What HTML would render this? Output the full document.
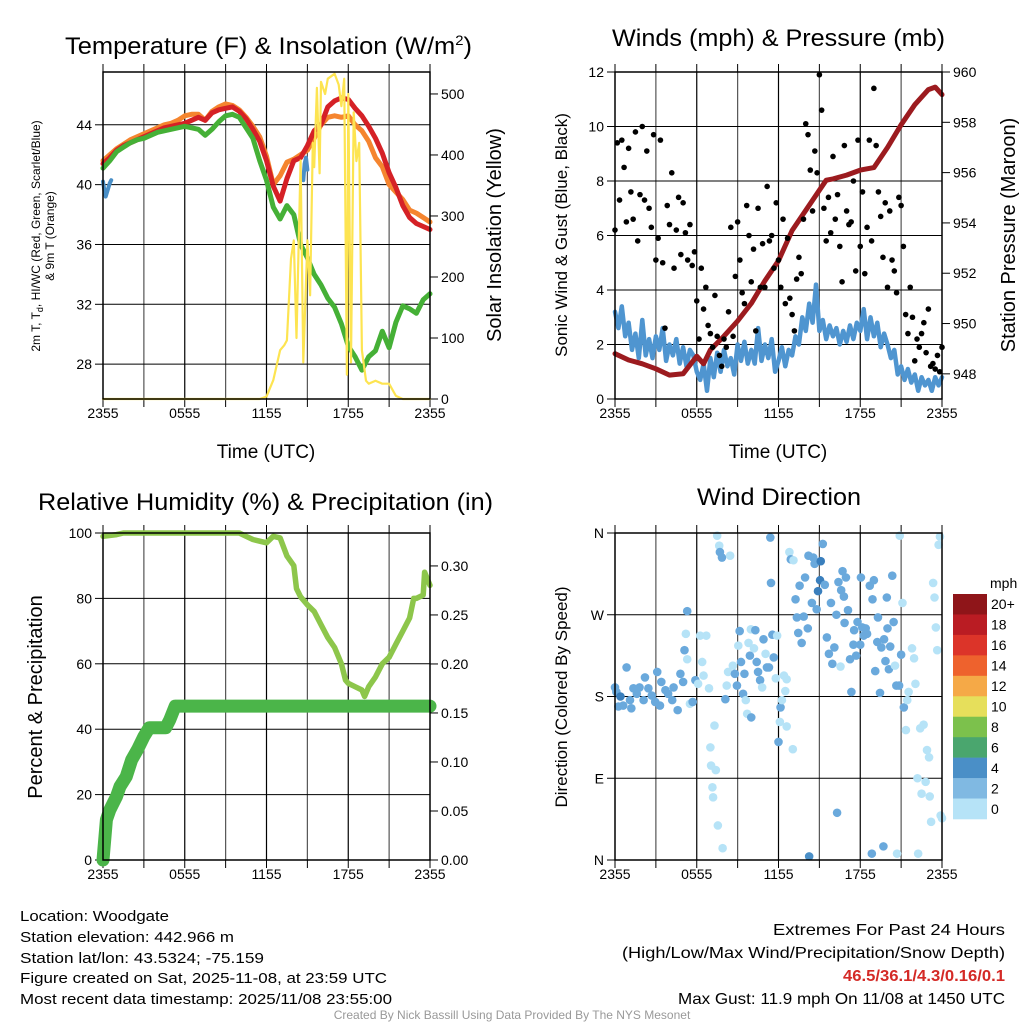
<!DOCTYPE html>
<html><head><meta charset="utf-8"><style>
html,body{margin:0;padding:0;background:#fff}
svg{display:block}
text{font-family:"Liberation Sans",sans-serif;fill:#000}
</style></head><body>
<svg id="fig" width="1024" height="1024" viewBox="0 0 1024 1024" xmlns="http://www.w3.org/2000/svg">
<g id="layer"></g>
<text x="65" y="54" font-size="24" textLength="407" lengthAdjust="spacingAndGlyphs">Temperature (F) &amp; Insolation (W/m<tspan font-size="14" dy="-9">2</tspan><tspan dy="9">)</tspan></text>
<text x="612" y="46" font-size="24" textLength="333" lengthAdjust="spacingAndGlyphs">Winds (mph) &amp; Pressure (mb)</text>
<text x="38" y="510" font-size="24" textLength="455" lengthAdjust="spacingAndGlyphs">Relative Humidity (%) &amp; Precipitation (in)</text>
<text x="697" y="505" font-size="24" textLength="164" lengthAdjust="spacingAndGlyphs">Wind Direction</text>
<text x="266" y="458" font-size="19" text-anchor="middle">Time (UTC)</text>
<text x="778" y="458" font-size="19" text-anchor="middle">Time (UTC)</text>
<text transform="translate(40,236) rotate(-90)" font-size="12" text-anchor="middle">2m T, T<tspan font-size="9" dy="3">d</tspan><tspan dy="-3">, HI/WC (Red, Green, Scarlet/Blue)</tspan></text>
<text transform="translate(54,236) rotate(-90)" font-size="12" text-anchor="middle">&amp; 9m T (Orange)</text>
<text transform="translate(501,235) rotate(-90)" font-size="20" text-anchor="middle">Solar Insolation (Yellow)</text>
<text transform="translate(567,235) rotate(-90)" font-size="17" text-anchor="middle">Sonic Wind &amp; Gust (Blue, Black)</text>
<text transform="translate(1015,235) rotate(-90)" font-size="20" text-anchor="middle">Station Pressure (Maroon)</text>
<text transform="translate(42,697) rotate(-90)" font-size="20" text-anchor="middle">Percent &amp; Precipitation</text>
<text transform="translate(567,697) rotate(-90)" font-size="17" text-anchor="middle">Direction (Colored By Speed)</text>
<g font-size="15">
<text x="20" y="921" textLength="149" lengthAdjust="spacingAndGlyphs">Location: Woodgate</text>
<text x="20" y="942" textLength="214" lengthAdjust="spacingAndGlyphs">Station elevation: 442.966 m</text>
<text x="20" y="963" textLength="244" lengthAdjust="spacingAndGlyphs">Station lat/lon: 43.5324; -75.159</text>
<text x="20" y="983" textLength="367" lengthAdjust="spacingAndGlyphs">Figure created on Sat, 2025-11-08, at 23:59 UTC</text>
<text x="20" y="1004" textLength="372" lengthAdjust="spacingAndGlyphs">Most recent data timestamp: 2025/11/08 23:55:00</text>
</g>
<g font-size="16">
<text x="773" y="935" textLength="232" lengthAdjust="spacingAndGlyphs">Extremes For Past 24 Hours</text>
<text x="622" y="958" textLength="383" lengthAdjust="spacingAndGlyphs">(High/Low/Max Wind/Precipitation/Snow Depth)</text>
<text x="843" y="981" font-weight="bold" textLength="162" lengthAdjust="spacingAndGlyphs" style="fill:#d42a26">46.5/36.1/4.3/0.16/0.1</text>
<text x="678" y="1004" textLength="327" lengthAdjust="spacingAndGlyphs">Max Gust: 11.9 mph On 11/08 at 1450 UTC</text>
</g>
<text x="512" y="1019" font-size="12" text-anchor="middle" style="fill:#999">Created By Nick Bassill Using Data Provided By The NYS Mesonet</text>
</svg>
<script>
// ---------- DATA ----------
const xTickLabels = ["2355","0555","1155","1755","2355"];
const hh = [0,0.5,1,1.5,2,2.5,3,3.5,4,4.5,5,5.5,6,6.5,7,7.5,8,8.5,9,9.5,10,10.5,11,11.5,12,12.5,13,13.5,14,14.5,15,15.5,16,16.5,17,17.5,18,18.5,19,19.5,20,20.5,21,21.5,22,22.5,23,23.5,24];
const tempRed = [41.4,41.8,42.3,42.6,42.8,43.0,43.2,43.4,43.6,43.8,43.9,44.0,44.1,44.3,44.5,44.3,44.8,45.0,45.1,45.2,44.9,44.4,43.7,42.9,41.6,39.9,38.9,40.4,41.6,41.8,42.6,43.6,44.0,45.2,45.6,45.8,45.7,45.1,44.6,43.9,43.1,42.1,40.8,39.8,38.6,37.8,37.4,37.2,37.0];
const temp9m = [41.6,42.0,42.4,42.7,43.0,43.2,43.4,43.6,43.8,44.0,44.1,44.3,44.6,44.7,44.7,44.3,44.9,45.2,45.4,45.3,45.0,44.5,43.9,43.2,41.9,40.0,40.6,41.5,41.7,42.0,42.3,43.1,44.0,44.5,44.6,44.5,44.6,44.0,43.6,42.9,41.8,41.2,40.0,39.5,39.0,38.3,38.1,37.8,37.5];
const tempDew = [41.1,41.6,42.2,42.5,42.8,43.0,43.1,43.3,43.5,43.6,43.7,43.8,43.9,43.8,43.7,43.3,43.7,44.2,44.6,44.7,44.5,43.8,43.1,41.6,40.3,38.5,37.7,38.6,38.0,36.0,35.1,34.0,33.3,32.4,31.8,30.7,29.2,28.5,27.6,28.5,28.9,30.2,29.1,30.8,31.9,31.7,31.4,32.3,32.7];
const hiTimes = [0,0.1,0.2,0.5,0.6,14.7,14.8,14.9,15.0];
const hiVals = [40.2,39.6,39.2,40.1,40.3,40.3,41.4,41.8,41.0];
const solTimes = [0,11.5,12,12.5,13,13.3,13.5,13.8,14,14.2,14.5,14.7,15,15.2,15.4,15.5,15.7,15.9,16,16.3,16.5,17,17.3,17.5,17.7,17.9,18,18.2,18.4,18.6,18.8,19,19.3,19.5,20,20.5,21,21.5,22,24];
const solVals = [0,0,4,31,80,88,96,230,260,100,391,60,260,170,420,380,510,370,520,500,525,533,515,480,525,40,500,60,470,390,420,80,30,25,30,25,25,5,0,0];
const wind15 = [3.2,2.6,3.4,2.3,2.8,1.8,2.4,1.5,2.9,1.6,2.2,1.5,2.3,1.8,2.6,1.4,2.0,1.6,2.2,1.3,1.9,1.2,1.8,1.6,1.0,0.7,1.3,0.3,1.5,0.8,1.7,1.0,1.8,1.2,1.5,0.9,2.0,1.4,2.1,1.3,1.8,1.3,2.6,1.4,2.0,1.5,2.2,1.0,1.4,1.9,1.2,1.8,1.6,2.3,2.0,3.0,2.5,3.5,2.8,4.2,2.5,2.9,2.2,2.7,2.3,2.6,2.0,2.5,2.1,2.7,2.2,2.8,2.5,3.3,2.2,3.0,2.3,2.8,1.9,2.4,2.0,1.5,1.8,0.9,1.2,0.7,1.1,0.6,0.9,0.3,0.8,0.5,0.7,0.3,0.8,0.5,0.8];
const gust10 = [6.2,9.4,7.3,9.5,8.5,6.5,9.2,7.6,6.6,9.8,5.8,7.5,10.0,7.3,9.1,7.0,6.3,9.7,5.1,5.9,9.5,5.0,2.6,7.1,6.4,8.3,4.8,6.2,7.4,5.3,7.2,6.1,5.1,6.4,4.9,5.4,3.6,2.2,4.8,3.3,4.1,2.7,2.4,1.9,3.8,2.3,1.6,1.2,2.2,1.9,3.2,6.3,2.3,4.5,6.5,5.1,3.9,3.5,7.1,6.0,4.3,5.5,2.5,7.0,4.1,5.7,4.1,7.8,5.8,6.0,4.8,7.2,5.1,4.1,6.6,3.5,5.9,3.7,3.1,2.5,4.4,5.2,4.6,6.6,10.1,9.7,8.4,6.9,9.1,8.3,11.9,10.6,7.0,5.8,7.4,6.1,8.9,6.6,7.5,5.6,4.3,9.3,6.9,6.4,6.5,8.0,4.7,9.5,5.6,7.6,4.6,6.3,9.5,5.8,11.4,9.3,7.6,6.7,5.2,7.2,4.1,6.9,5.1,4.7,3.9,7.4,7.1,5.6,3.1,2.4,4.1,3.0,1.4,2.2,1.9,2.4,2.8,1.7,3.3,1.2,1.3,1.1,1.6,1.0,1.9];
const pressTimes = [0,1,2,3,4,5,6,6.5,7,8,9,10,11,12,13,14,15,15.5,16,17,18,19,20,21,22,23,23.5,24];
const pressVals = [948.8,948.55,948.4,948.2,947.95,948.0,948.7,948.4,948.95,949.5,950.1,950.8,951.7,952.5,953.7,954.5,955.3,955.7,955.75,955.9,956.1,956.2,957.0,957.9,958.7,959.3,959.4,959.1];
const rhTimes = [0,1,1.5,10,10.5,11,11.5,12,12.5,13,13.5,14,14.2,14.5,15,15.5,16,16.5,17,17.5,17.8,18,18.5,19,19.2,19.5,20,20.5,21,21.5,22,22.5,22.8,23,23.5,23.6,24];
const rhVals = [99,99.5,100,100,99,98,97.5,97,99,98.5,93,90,83,80.5,78,76,72,68,65,60,55,54,53,52,50,53,56,60,62,66,70,74,80,80,81,88,84];
const precTimes = [0,0.25,0.5,0.75,1,1.25,1.7,2.1,2.55,3,3.4,4.6,4.9,5.3,24];
const precVals = [0,0.041,0.051,0.058,0.065,0.075,0.085,0.102,0.113,0.126,0.135,0.135,0.143,0.157,0.157];
const dirTimes = [0,0.1,0.4,0.25,0.6,0.85,1.1,1.2,1.35,1.6,1.8,2.1,2.2,2.45,2.7,2.95,3.1,3.3,3.4,3.7,3.9,4.2,4.3,4.6,4.8,5.0,5.1,5.2,5.3,5.3,5.5,5.7,5.9,6.1,6.25,6.4,6.5,6.7,6.9,7.0,7.05,7.15,7.2,7.3,7.4,7.5,7.55,7.65,7.7,7.85,7.9,8.1,8.2,8.3,8.45,8.65,8.8,8.95,9.05,9.15,9.25,9.4,9.5,9.6,9.7,9.8,9.9,9.97,10.0,10.2,10.3,10.4,10.5,10.65,10.8,10.9,11.05,11.15,11.3,11.4,11.45,11.55,11.65,11.8,11.9,12.0,12.1,12.15,12.25,12.4,12.5,12.6,12.6,12.8,12.9,13.05,13.1,13.25,13.35,13.45,13.55,13.7,13.85,13.95,14.15,14.2,14.45,14.55,14.65,14.25,14.8,14.9,15.05,15.1,15.25,15.4,15.55,15.7,15.85,15.95,16.1,16.25,16.3,16.4,16.55,16.6,16.7,16.8,16.85,16.95,17.1,17.25,17.35,17.5,17.55,17.7,17.8,18.0,18.05,18.15,18.25,18.4,18.5,18.7,18.85,18.9,19.0,19.1,19.25,19.3,19.45,19.55,19.7,19.75,19.85,19.95,20.0,20.1,20.2,20.35,20.45,20.55,20.65,20.7,20.85,20.9,21.0,21.1,21.2,21.35,21.45,21.55,21.8,21.95,22.05,22.2,22.25,22.4,22.5,22.65,22.8,22.9,23.05,23.1,23.2,23.35,23.45,23.55,23.65,23.75,23.85,23.9,24];
const dirVals = [190,185,180,169,170,212,176,167,189,183,190,176,201,189,181,174,207,170,196,187,183,176,190,165,205,196,231,249,221,274,172,174,198,194,247,218,203,247,189,124,104,80,69,148,99,357,38,346,339,333,13,177,192,207,335,214,205,192,236,252,218,183,205,176,161,239,225,254,157,233,253,218,207,198,190,243,227,212,212,355,305,248,223,200,247,130,152,168,176,203,186,199,147,339,331,122,330,287,267,250,302,239,268,311,255,335,283,333,326,4,276,296,308,329,348,303,245,227,283,216,234,270,52,306,213,297,318,290,261,311,275,221,185,237,253,225,262,237,311,256,247,255,249,302,7,287,308,208,240,267,184,234,15,243,219,289,255,210,235,313,262,214,192,7,192,357,226,283,168,143,176,185,233,222,194,90,7,145,73,149,86,121,113,70,42,305,289,256,231,347,356,49,46];
const dirSpeeds = [3,3,5,3,3,3,3,3,3,3,3,3,3,3,3,3,3,3,3,3,3,3,3,3,3,3,3,1,1,3,1,3,3,1,1,1,1,1,1,1,1,1,1,1,1,1,1,1,3,3,1,3,1,1,1,1,3,3,1,3,3,3,3,1,1,1,3,1,3,1,3,3,3,3,1,3,1,3,3,3,3,3,3,1,1,3,1,3,1,1,1,1,1,1,3,1,1,3,3,3,3,3,3,3,3,3,3,3,3,4,3,5,5,5,3,3,3,3,3,3,3,3,3,3,1,3,3,3,3,3,3,3,3,3,3,3,3,3,3,3,3,3,3,3,3,3,3,3,3,3,3,3,3,3,3,3,3,3,3,3,3,1,3,1,3,1,3,1,3,1,1,1,1,1,1,1,1,1,1,1,1,1,1,1,1,1,1,1,1,1,1,1,1,1,1,1,1];
const cbarLabels = ["20+","18","16","14","12","10","8","6","4","2","0"];
const cbarColors = ["#8f1519","#ba1c23","#dc3429","#ee622d","#f5a947","#e6df5b","#7cc14c","#4aa66e","#4a8fc7","#80b9e2","#b6e3f7"];

// ---------- HELPERS ----------
const NS="http://www.w3.org/2000/svg";
const layer=document.getElementById('layer');
function mk(tag,attrs,parent){const e=document.createElementNS(NS,tag);for(const k in attrs)e.setAttribute(k,attrs[k]);(parent||layer).appendChild(e);return e;}
function lin(d0,d1,r0,r1){return v=>r0+(v-d0)*(r1-r0)/(d1-d0);}
function pathD(xs,ys,fx,fy){return xs.map((t,i)=>(i?'L':'M')+fx(t).toFixed(1)+' '+fy(ys[i]).toFixed(1)).join(' ');}
function seq(n){return Array.from({length:n},(_,i)=>i*24/(n-1));}

function panel(L,R,T,B,name){
  const g=mk('g',{});
  
  
  const fx=lin(0,24,L,R);
  for(let h=3;h<24;h+=3){const l=mk('line',{x1:fx(h),x2:fx(h),y1:T,y2:B,stroke:(h%6==0?'#000':'#555'),'stroke-width':1.2},g);
    }
  for(let h=0;h<=24;h+=3){mk('line',{x1:fx(h),x2:fx(h),y1:B,y2:B+8,stroke:'#000','stroke-width':1},g);mk('line',{x1:fx(h),x2:fx(h),y1:T-8,y2:T,stroke:'#000','stroke-width':1},g);}
  xTickLabels.forEach((s,i)=>{const t=mk('text',{x:fx(i*6),y:B+19,'font-size':14,'text-anchor':'middle'},g);t.textContent=s;
    });
  return {g,fx};
}
function yAxis(g,L,R,T,B,fy,ticks,labels,side,name){
  ticks.forEach((v,i)=>{const y=fy(v);
    if(side=='left'){mk('line',{x1:L,x2:R,y1:y,y2:y,stroke:'#000','stroke-width':1},g);mk('line',{x1:L-8,x2:L,y1:y,y2:y,stroke:'#000'},g);
      const t=mk('text',{x:L-11,y:y+5,'font-size':14,'text-anchor':'end'},g);t.textContent=labels[i];
      }
    else{mk('line',{x1:R,x2:R+8,y1:y,y2:y,stroke:'#000'},g);
      const t=mk('text',{x:R+11,y:y+5,'font-size':14,'text-anchor':'start'},g);t.textContent=labels[i];
      }
  });
}
function frame(g,L,R,T,B){const r=mk('rect',{x:L,y:T,width:R-L,height:B-T,fill:'none',stroke:'#000','stroke-width':1.5},g);
  }
function line(g,xs,ys,fx,fy,color,w,name){const p=mk('path',{d:pathD(xs,ys,fx,fy),fill:'none',stroke:color,'stroke-width':w,'stroke-linejoin':'round','stroke-linecap':'round'},g);
  return p;}

// ---------- PANEL 1 ----------
(function(){
  const L=103,R=430,T=72,B=399;
  const {g,fx}=panel(L,R,T,B,'temperature-panel');
  const fy=lin(25.67,47.53,B,T), fs=lin(0,536,B,T);
  yAxis(g,L,R,T,B,fy,[28,32,36,40,44],["28","32","36","40","44"],'left','temp-y-tick-label');
  yAxis(g,L,R,T,B,fs,[0,100,200,300,400,500],["0","100","200","300","400","500"],'right','solar-y-tick-label');
  line(g,hh,temp9m,fx,fy,'#f5852f',5,'temp-9m-line');
  line(g,hh,tempRed,fx,fy,'#d52126',5,'temp-2m-line');
  line(g,hh,tempDew,fx,fy,'#45b036',5,'dewpoint-line');
  line(g,hiTimes.slice(0,5),hiVals.slice(0,5),fx,fy,'#4a8fc7',4,'windchill-line-a');
  line(g,hiTimes.slice(5),hiVals.slice(5),fx,fy,'#4a8fc7',4,'windchill-line-b');
  line(g,solTimes,solVals,fx,fs,'#fde451',2.2,'solar-line');
  frame(g,L,R,T,B);
})();

// ---------- PANEL 2 ----------
(function(){
  const L=615,R=942,T=72,B=399;
  const {g,fx}=panel(L,R,T,B,'wind-panel');
  const fy=lin(0,12,B,T), fp=lin(947,960,B,T);
  yAxis(g,L,R,T,B,fy,[0,2,4,6,8,10,12],["0","2","4","6","8","10","12"],'left','wind-y-tick-label');
  yAxis(g,L,R,T,B,fp,[948,950,952,954,956,958,960],["948","950","952","954","956","958","960"],'right','pressure-y-tick-label');
  line(g,seq(wind15.length),wind15,fx,fy,'#4f95d0',4.5,'sonic-wind-line');
  line(g,pressTimes,pressVals,fx,fp,'#9c1b1f',5,'pressure-line');
  const gt=seq(gust10.length);
  gust10.forEach((v,i)=>{const c=mk('circle',{cx:fx(gt[i]),cy:fy(v),r:2.8,fill:'#000'},g);
    });
  frame(g,L,R,T,B);
})();

// ---------- PANEL 3 ----------
(function(){
  const L=103,R=430,T=533,B=860;
  const {g,fx}=panel(L,R,T,B,'humidity-panel');
  const fy=lin(0,100,B,T), fr=lin(0,0.3336,B,T);
  yAxis(g,L,R,T,B,fy,[0,20,40,60,80,100],["0","20","40","60","80","100"],'left','rh-y-tick-label');
  yAxis(g,L,R,T,B,fr,[0,0.05,0.1,0.15,0.2,0.25,0.3],["0.00","0.05","0.10","0.15","0.20","0.25","0.30"],'right','precip-y-tick-label');
  line(g,rhTimes,rhVals,fx,fy,'#8dc64b',5.5,'humidity-line');
  line(g,precTimes,precVals,fx,fr,'#4bb549',13,'precip-line');
  frame(g,L,R,T,B);
})();

// ---------- PANEL 4 ----------
(function(){
  const L=615,R=942,T=533,B=860;
  const {g,fx}=panel(L,R,T,B,'direction-panel');
  const fy=lin(0,360,B,T);
  yAxis(g,L,R,T,B,fy,[0,90,180,270,360],["N","E","S","W","N"],'left','direction-y-tick-label');
  const sc=s=>s>=4?'#4a8fc7':(s>=2?'#6aa9dc':'#b6e3f7');
  dirVals.forEach((v,i)=>{const c=mk('circle',{cx:fx(dirTimes[i]),cy:fy(v),r:4.3,fill:(dirSpeeds[i]>=5?'#3a7fbd':sc(dirSpeeds[i]))},g);
    });
  frame(g,L,R,T,B);
  const cb=mk('g',{});
  
  
  const top=594,h=(819-594)/cbarColors.length;
  cbarColors.forEach((c,i)=>{const r=mk('rect',{x:953,y:top+i*h,width:34,height:h+0.3,fill:c},cb);
    
    const t=mk('text',{x:991,y:top+i*h+h/2+5,'font-size':14},cb);t.textContent=cbarLabels[i];
    });
  const u=mk('text',{x:990,y:588,'font-size':14},cb);u.textContent='mph';
  
})();
</script>
</body></html>
